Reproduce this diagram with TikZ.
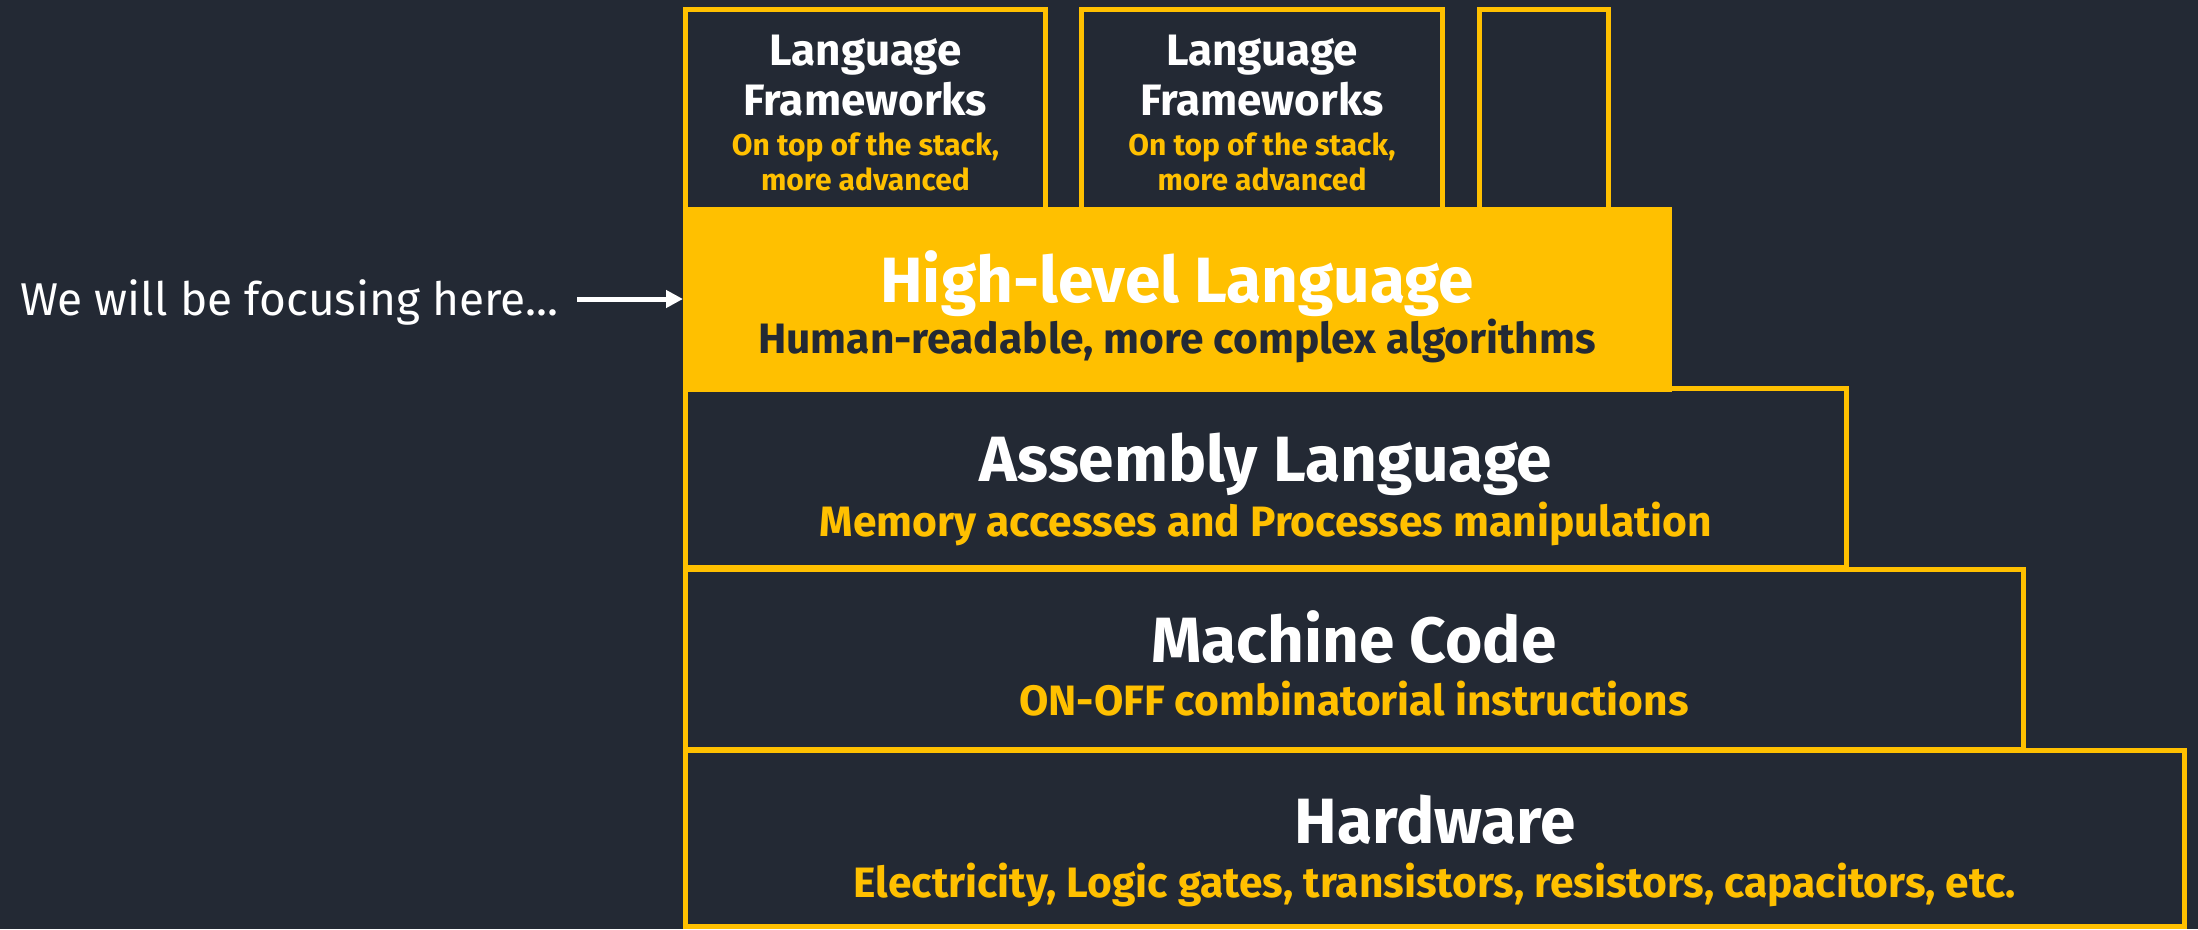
\documentclass[tikz,border=0pt]{standalone}
\usepackage{fontspec}
\setmainfont{Fira Sans}
\usetikzlibrary{arrows.meta}
\definecolor{bg}{RGB}{35,41,52}
\definecolor{gold}{RGB}{255,192,0}
\begin{document}
\begin{tikzpicture}[x=1pt,y=-1pt,
 layer/.style={draw=gold, line width=5pt, fill=bg, inner sep=0, outer sep=0, anchor=north west},
 titletxt/.style={text=white, font=\fontsize{64}{64}\selectfont\bfseries, anchor=base, inner sep=0},
 subtxt/.style={text=gold, font=\fontsize{42.5}{42.5}\selectfont\bfseries, anchor=base, inner sep=0},
 ttitle/.style={text=white, font=\fontsize{44}{44}\selectfont\bfseries, anchor=base, inner sep=0},
 tsub/.style={text=gold, font=\fontsize{30}{30}\selectfont\bfseries, anchor=base, inner sep=0}]
\fill[bg] (0,0) rectangle (2198,929);
\useasboundingbox (0,0) rectangle (2198,929);
% layers
\node[layer, minimum width=1499pt, minimum height=176pt] (hw) at (685.5,750.5) {};
\node[layer, minimum width=1338pt, minimum height=180pt] (mc) at (685.5,569.5) {};
\node[layer, minimum width=1161pt, minimum height=179pt] (as) at (685.5,388.5) {};
\node[layer, minimum width=360pt, minimum height=200pt] (fw1) at (685.5,9.5) {};
\node[layer, minimum width=361pt, minimum height=200pt] (fw2) at (1081.5,9.5) {};
\node[layer, minimum width=129pt, minimum height=200pt] (fw3) at (1479.5,9.5) {};
\node[fill=gold, draw=none, inner sep=0, outer sep=0, anchor=north west, minimum width=989pt, minimum height=185pt] (hl) at (683,207) {};
% texts
\node[titletxt] (hlt) at (1177,302) {High-level Language};
\node[subtxt, text=bg] (hls) at (1177,353) {Human-readable, more complex algorithms};
\node[titletxt] (ast) at (1266,481) {Assembly Language};
\node[subtxt] (ass) at (1266,536) {Memory accesses and Processes manipulation};
\node[titletxt] (mct) at (1354,662) {Machine Code};
\node[subtxt] (mcs) at (1354,715) {ON-OFF combinatorial instructions};
\node[titletxt] (hwt) at (1435,843) {Hardware};
\node[subtxt] (hws) at (1435,897) {Electricity, Logic gates, transistors, resistors, capacitors, etc.};
\node[ttitle] (fw1a) at (865.5,65) {Language};
\node[ttitle] (fw1b) at (865.5,115) {Frameworks};
\node[tsub] (fw1c) at (865.5,155) {On top of the stack,};
\node[tsub] (fw1d) at (865.5,190) {more advanced};
\node[ttitle] (fw2a) at (1262,65) {Language};
\node[ttitle] (fw2b) at (1262,115) {Frameworks};
\node[tsub] (fw2c) at (1262,155) {On top of the stack,};
\node[tsub] (fw2d) at (1262,190) {more advanced};
% left note
\node[text=white, font=\fontsize{46}{46}\selectfont, anchor=base west, inner sep=0] (focus) at (20,315) {We will be focusing here...};
\coordinate (arrstart) at (577,299);
\draw[white, line width=5pt, -{Triangle[length=17pt,width=17pt]}] (arrstart) -- (arrstart -| hl.west);
\end{tikzpicture}
\end{document}
